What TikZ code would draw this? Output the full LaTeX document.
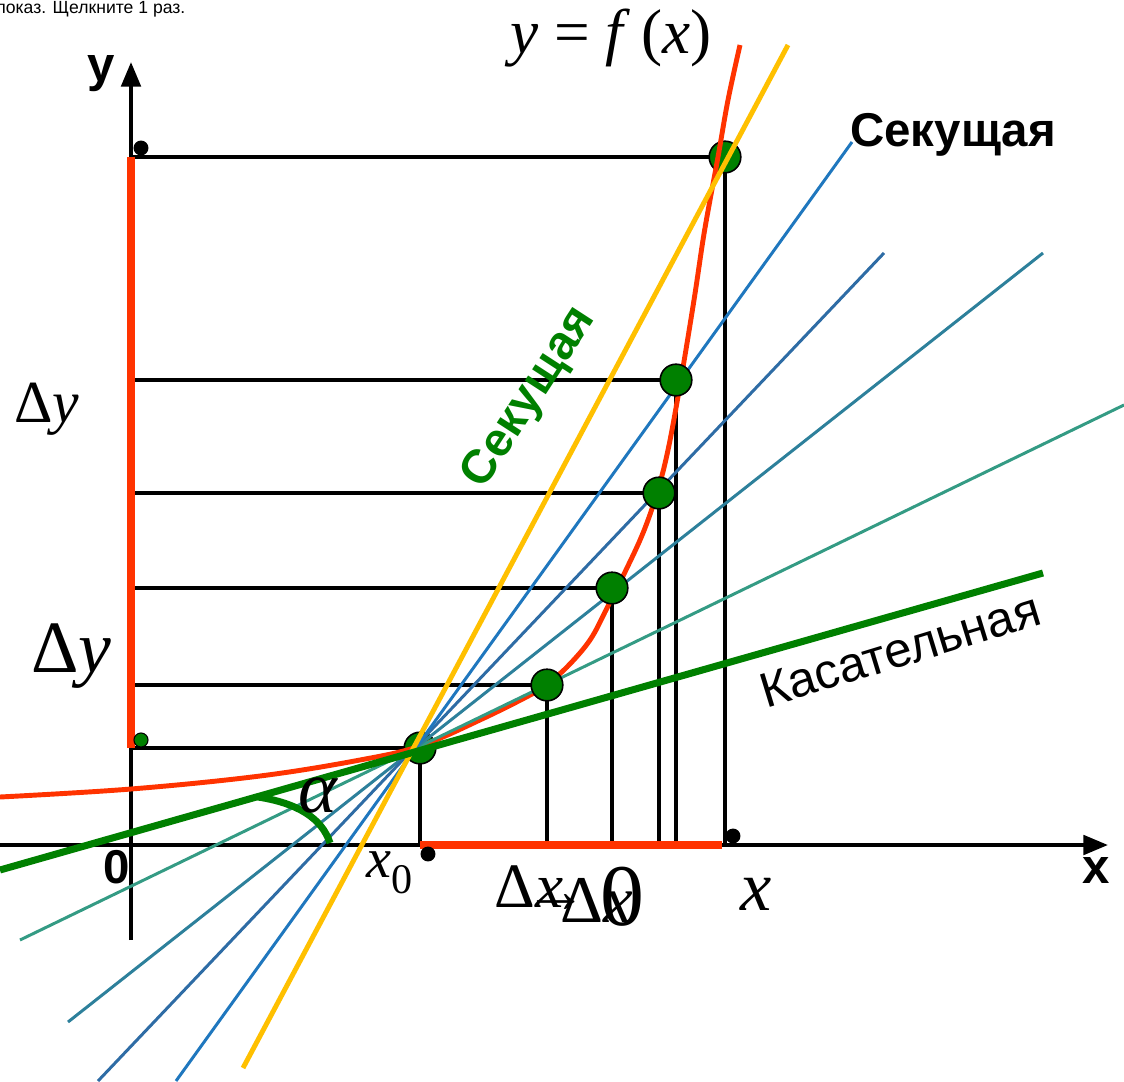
\documentclass[tikz,border=0pt]{standalone}
\usepackage{fontspec}
\setmainfont{Liberation Serif}
\setsansfont{Liberation Sans}
\usepackage{tikz}
\usetikzlibrary{arrows.meta, calc}
\definecolor{fred}{RGB}{255,51,0}
\definecolor{fyellow}{RGB}{255,192,0}
\definecolor{fgreen}{RGB}{0,128,0}
\definecolor{secblue}{RGB}{31,119,190}
\definecolor{secsteel}{RGB}{46,108,165}
\definecolor{secteal}{RGB}{45,128,155}
\definecolor{secmint}{RGB}{52,155,132}

\begin{document}
\begin{tikzpicture}[x=0.02cm, y=-0.02cm,
    axis/.style={line width=2.3pt, -{Triangle[length=14pt, width=11pt]}},
    guide/.style={line width=1.9pt},
    redbar/.style={line width=4.6pt, color=fred},
    sec/.style={line width=1.7pt},
    pt/.style={circle, draw, fill=fgreen, line width=0.9pt, inner sep=0pt, minimum size=18pt},
    blackdot/.style={circle, fill=black, inner sep=0pt, minimum size=8.5pt},
    lbl/.style={font=\sffamily\bfseries\fontsize{28}{32}\selectfont, inner sep=0pt},
    mth/.style={font=\rmfamily\fontsize{36}{40}\selectfont, inner sep=0pt},
]
\useasboundingbox (0,0) rectangle (1124,1081);

% axes
\coordinate (o) at (131,845);
\coordinate (xstart) at (0,845);
\coordinate (xend) at (1108,845);
\coordinate (ystart) at (131,940);
\coordinate (yend) at (131,62);
\draw[axis] (xstart) -- (xend);
\draw[axis] (ystart) -- (yend);

% points of the graph
\coordinate (c0) at (420,748);
\coordinate (c1) at (547,685);
\coordinate (c2) at (612,588);
\coordinate (c3) at (659,493);
\coordinate (c4) at (676,380);
\coordinate (c5) at (725,157);

% projections
\draw[guide] (c0 -| o) -- (c0) -- (c0 |- o);
\draw[guide] (c1 -| o) -- (c1) -- (c1 |- o);
\draw[guide] (c2 -| o) -- (c2) -- (c2 |- o);
\draw[guide] (c3 -| o) -- (c3) -- (c3 |- o);
\draw[guide] (c4 -| o) -- (c4) -- (c4 |- o);
\draw[guide] (c5 -| o) -- (c5) -- (c5 |- o);

% increments
\draw[redbar] (c5 -| o) -- (c0 -| o);
\coordinate (dxend) at (722,845);
\draw[redbar] (c0 |- o) -- (dxend);

\node[pt] (p0) at (c0) {};
\node[pt] (p5) at (c5) {};

% y = f(x)
\draw[fred, line width=2.8pt] plot[smooth, tension=0.6] coordinates {
    (0,797) (131,789) (260,776) (360,760) (420,746) (482,719) (532,694)
    (547,684) (567,667) (590,640) (607,608) (625,572) (643,533) (657,493)
    (668,450) (680,385) (694,300) (703,240) (710,200) (718,157) (728,100) (740,45)};

% secants and tangent
\coordinate (s5a) at (243,1068);  \coordinate (s5b) at (788,45);
\coordinate (s4a) at (176,1081);  \coordinate (s4b) at (852,142);
\coordinate (s3a) at (98,1081);   \coordinate (s3b) at (884,253);
\coordinate (s2a) at (68,1022);   \coordinate (s2b) at (1043,253);
\coordinate (s1a) at (20,940);    \coordinate (s1b) at (1124,405);
\coordinate (ta) at (0,870);      \coordinate (tb) at (1043,573);
\draw[sec, secmint] (s1a) -- (s1b);
\draw[sec, secteal] (s2a) -- (s2b);
\draw[sec, secsteel] (s3a) -- (s3b);
\draw[sec, secblue] (s4a) -- (s4b);
\draw[fyellow, line width=2.8pt] (s5a) -- (s5b);

\node[pt] (p1) at (c1) {};
\node[pt] (p2) at (c2) {};
\node[pt] (p3) at (c3) {};
\node[pt] (p4) at (c4) {};

\draw[fgreen, line width=4pt] (ta) -- (tb);
\coordinate (arcs) at (258,797);
\coordinate (arce) at (330,843);
\draw[fgreen, line width=4pt] (arcs) .. controls (297,803) and (322,818) .. (arce);

% marks
\node[blackdot] (d1) at (141,148) {};
\node[circle, draw, fill=fgreen, line width=0.6pt, inner sep=0pt, minimum size=8pt] (d2) at (141,740) {};
\node[blackdot] (d3) at (428,854) {};
\node[blackdot] (d4) at (733,836) {};

% labels
\node[font=\sffamily\fontsize{10}{12}\selectfont, anchor=base west, inner sep=0pt] (hint) at (-4,14) {показ. Щелкните 1 раз.};
\node[lbl, anchor=base west] (ylab) at (87,82) {y};
\node[lbl, anchor=base west] (xlab) at (1082,883) {x};
\node[lbl, anchor=base west, font=\sffamily\bfseries\fontsize{27}{30}\selectfont] (olab) at (103,883) {0};
\node[mth, anchor=base west] (fxlab) at (510,54) {\textit{y} = \textit{f}\,(\textit{x})};
\node[lbl, anchor=base west, font=\sffamily\bfseries\fontsize{27}{32}\selectfont] (seclab) at (850,147) {Секущая};
\node[lbl, text=fgreen, rotate=57, font=\sffamily\bfseries\fontsize{27}{32}\selectfont] (seclab2) at (530,398) {Секущая};
\node[lbl, rotate=17, font=\sffamily\fontsize{28}{32}\selectfont] (tanlab) at (900,650) {Касательная};
\node[mth, anchor=base west, font=\rmfamily\fontsize{34}{40}\selectfont] (dy1) at (14,422) {Δ\textit{y}};
\node[mth, anchor=base west, font=\rmfamily\fontsize{42}{46}\selectfont] (dy2) at (31,672) {Δ\textit{y}};
\node[mth, font=\rmfamily\fontsize{42}{46}\selectfont] (alab) at (318,795) {\textit{α}};
\node[mth, anchor=base west, font=\rmfamily\fontsize{32}{40}\selectfont] (x0lab) at (366,877) {\textit{x}\raisebox{-0.3em}{\fontsize{24}{24}\selectfont 0}};
\node[mth, anchor=base west, font=\rmfamily\fontsize{40}{44}\selectfont] (xlab2) at (740,910) {\textit{x}};
\node[mth, anchor=base west, font=\rmfamily\fontsize{36}{40}\selectfont] (dxa) at (494,907) {Δ\textit{x}};
\node[mth, anchor=base west, font=\rmfamily\fontsize{36}{40}\selectfont] (dxarr) at (524,912) {→};
\node[mth, anchor=base west, font=\rmfamily\fontsize{38}{40}\selectfont] (dxb) at (560,922) {Δ\textit{x}};
\node[mth, anchor=base west, font=\rmfamily\fontsize{50}{54}\selectfont] (dxzero) at (600,925) {0};
\end{tikzpicture}
\end{document}
